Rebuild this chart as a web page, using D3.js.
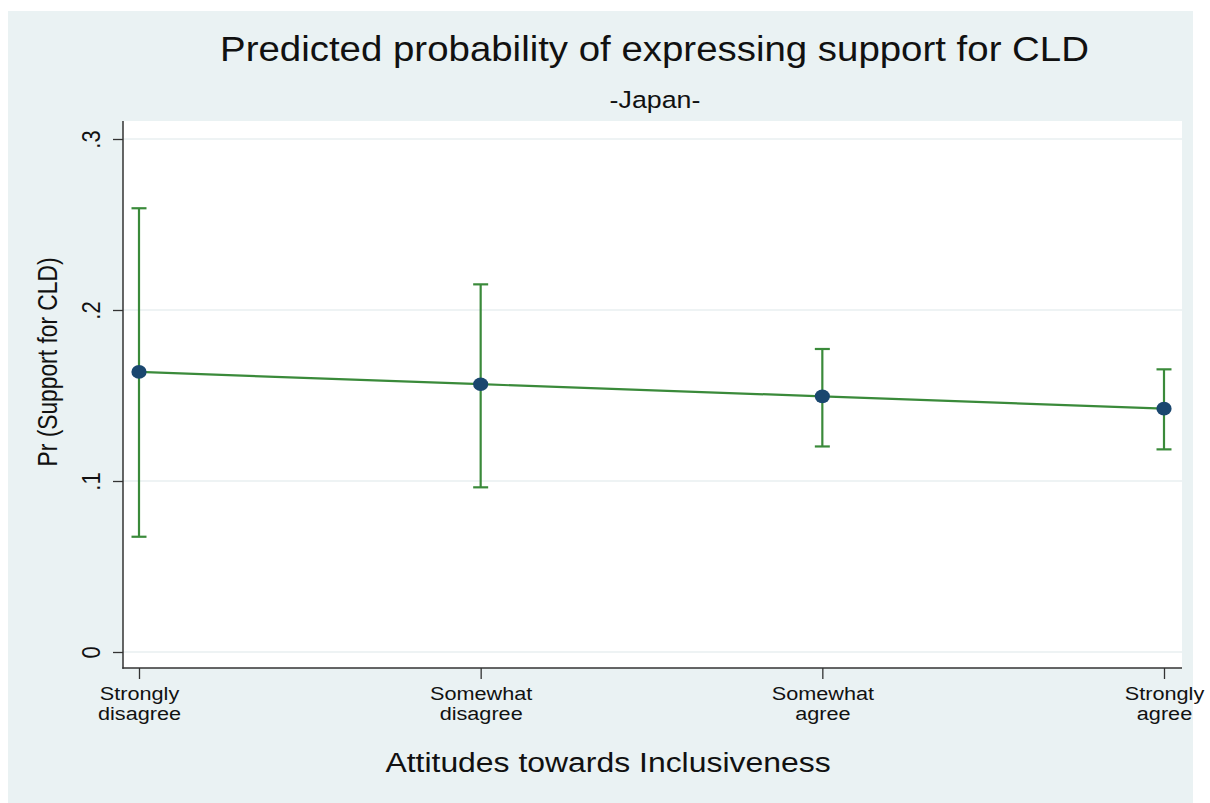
<!DOCTYPE html>
<html>
<head>
<meta charset="utf-8">
<script src="https://cdn.jsdelivr.net/npm/d3@7"></script>
<style>
  html, body { margin: 0; padding: 0; background: #ffffff; }
  svg { display: block; }
  text { font-family: "Liberation Sans", Arial, Helvetica, sans-serif; fill: #111; }
</style>
</head>
<body>
<svg id="chart" width="1210" height="803"></svg>
<script>
// ---- data ----
const categories = ["Strongly disagree", "Somewhat disagree", "Somewhat agree", "Strongly agree"];
const tickLines = [["Strongly", "disagree"], ["Somewhat", "disagree"], ["Somewhat", "agree"], ["Strongly", "agree"]];
const predicted = [0.1638, 0.1566, 0.1495, 0.1423];
const ciUpper = [0.2595, 0.2150, 0.1772, 0.1653];
const ciLower = [0.0674, 0.0963, 0.1202, 0.1185];
const yTicks = [0, 0.1, 0.2, 0.3];
const yTickLabels = ["0", ".1", ".2", ".3"];
const titleText = "Predicted probability of expressing support for CLD";
const subtitleText = "-Japan-";
const xTitleText = "Attitudes towards Inclusiveness";
const yTitleText = "Pr (Support for CLD)";

// ---- layout ----
const SX = 1.14; // horizontal stretch of the reference image
const svg = d3.select("#chart");
const plot = { left: 123, right: 1182, top: 121, bottom: 668 };
const green = "#3a8a3a";
const navy = "#1a476f";

svg.append("rect").attr("x", 8).attr("y", 11).attr("width", 1185).attr("height", 792).attr("fill", "#eaf2f3");
svg.append("rect").attr("x", plot.left).attr("y", plot.top)
  .attr("width", plot.right - plot.left).attr("height", plot.bottom - plot.top).attr("fill", "#ffffff");

const x = d3.scalePoint().domain(categories).range([139, 1164]);
const y = d3.scaleLinear().domain([0, 0.3]).range([652, 139]);

// grid lines
svg.append("g").selectAll("line").data(yTicks).join("line")
  .attr("x1", plot.left).attr("x2", plot.right)
  .attr("y1", d => y(d)).attr("y2", d => y(d))
  .attr("stroke", "#e8eff1").attr("stroke-width", 1.5);

// y axis
const yAxis = d3.axisLeft(y).tickValues(yTicks).tickSize(10).tickFormat((d, i) => yTickLabels[i]);
const yg = svg.append("g").attr("transform", `translate(${plot.left},0)`).call(yAxis);
yg.select(".domain").remove();
yg.selectAll(".tick line").attr("stroke", "#333").attr("stroke-width", 1.3);
yg.selectAll(".tick text").remove();
yg.selectAll(".tick").append("text")
  .attr("transform", `translate(-23,0) scale(1.2,1) rotate(-90)`)
  .attr("text-anchor", "middle").attr("font-size", 22).attr("fill", "#111")
  .text((d, i) => yTickLabels[i]);
svg.append("line").attr("x1", plot.left).attr("x2", plot.left)
  .attr("y1", plot.top).attr("y2", plot.bottom + 0.7).attr("stroke", "#333").attr("stroke-width", 1.5);

// x axis
const xAxis = d3.axisBottom(x).tickSize(11).tickFormat("");
const xg = svg.append("g").attr("transform", `translate(0,${plot.bottom})`).call(xAxis);
xg.select(".domain").remove();
xg.selectAll(".tick line").attr("stroke", "#333").attr("stroke-width", 1.3);
xg.selectAll(".tick").each(function(d, i) {
  const t = d3.select(this);
  tickLines[i].forEach((ln, j) => {
    t.append("text")
      .attr("transform", `translate(0,${32 + j * 20}) scale(${SX},1)`)
      .attr("text-anchor", "middle").attr("font-size", 19).attr("fill", "#111")
      .text(ln);
  });
});
svg.append("line").attr("x1", plot.left - 0.7).attr("x2", plot.right)
  .attr("y1", plot.bottom).attr("y2", plot.bottom).attr("stroke", "#333").attr("stroke-width", 1.5);

// error bars
const eb = svg.append("g");
eb.selectAll("line.v").data(categories).join("line").attr("class", "v")
  .attr("x1", d => x(d)).attr("x2", d => x(d))
  .attr("y1", (d, i) => y(ciLower[i])).attr("y2", (d, i) => y(ciUpper[i]))
  .attr("stroke", green).attr("stroke-width", 2.2);
[ciUpper, ciLower].forEach(arr => {
  eb.append("g").selectAll("line").data(categories).join("line")
    .attr("x1", d => x(d) - 7.5).attr("x2", d => x(d) + 7.5)
    .attr("y1", (d, i) => y(arr[i])).attr("y2", (d, i) => y(arr[i]))
    .attr("stroke", green).attr("stroke-width", 2.2);
});

// connecting line
const line = d3.line().x((d, i) => x(categories[i])).y(d => y(d));
svg.append("path").datum(predicted).attr("d", line)
  .attr("fill", "none").attr("stroke", green).attr("stroke-width", 2.2);

// markers
svg.append("g").selectAll("ellipse").data(predicted).join("ellipse")
  .attr("cx", (d, i) => x(categories[i])).attr("cy", d => y(d))
  .attr("rx", 7.6).attr("ry", 6.8).attr("fill", navy);

// titles
svg.append("text").attr("transform", `translate(654.5,61) scale(1.12,1)`)
  .attr("text-anchor", "middle").attr("font-size", 34.3).text(titleText);
svg.append("text").attr("transform", `translate(655,108) scale(${SX},1)`)
  .attr("text-anchor", "middle").attr("font-size", 23.5).text(subtitleText);
svg.append("text").attr("transform", `translate(608,772) scale(${SX},1)`)
  .attr("text-anchor", "middle").attr("font-size", 28).text(xTitleText);
svg.append("text").attr("transform", `translate(57,362) scale(1.2,1) rotate(-90)`)
  .attr("text-anchor", "middle").attr("font-size", 22.8).text(yTitleText);
</script>
</body>
</html>
